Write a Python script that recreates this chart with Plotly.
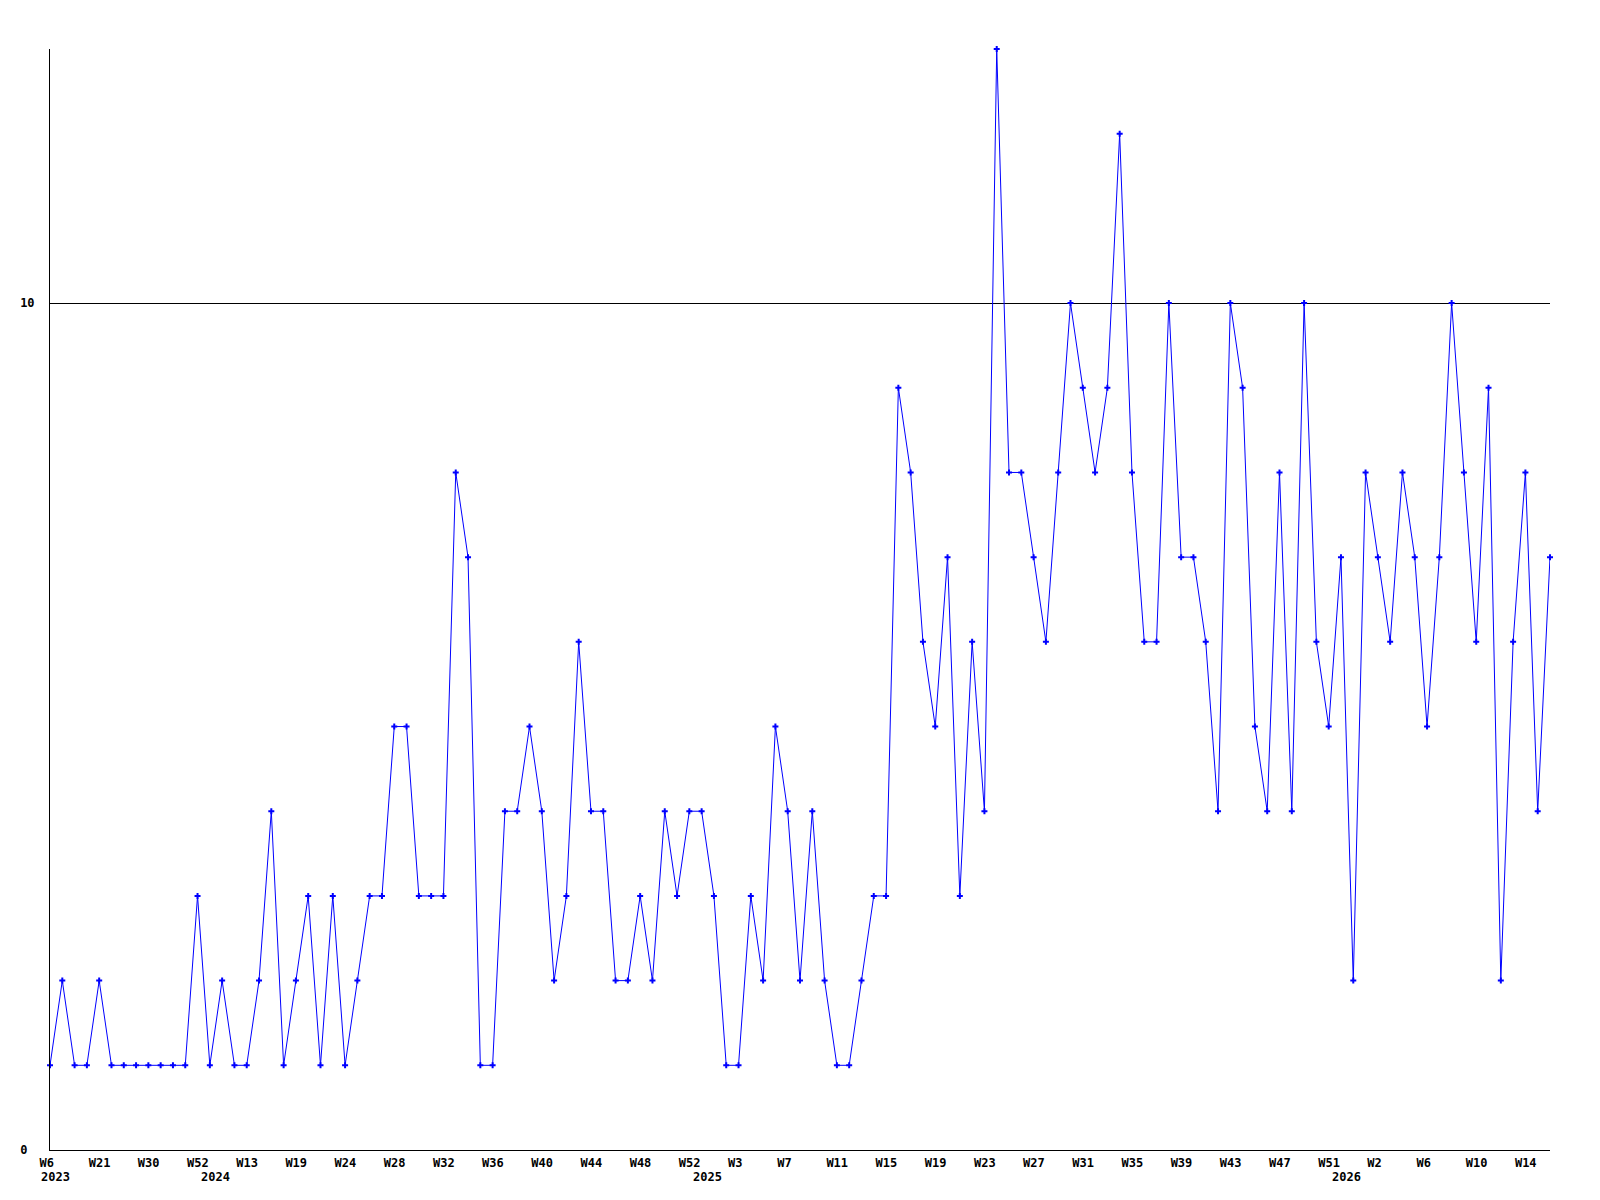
import plotly.graph_objects as go

# Weekly values (one point per week with data)
values = [
    1, 2, 1, 1, 2, 1, 1, 1, 1, 1, 1, 1, 3, 1, 2, 1, 1, 2, 4, 1,
    2, 3, 1, 3, 1, 2, 3, 3, 5, 5, 3, 3, 3, 8, 7, 1, 1, 4, 4, 5,
    4, 2, 3, 6, 4, 4, 2, 2, 3, 2, 4, 3, 4, 4, 3, 1, 1, 3, 2, 5,
    4, 2, 4, 2, 1, 1, 2, 3, 3, 9, 8, 6, 5, 7, 3, 6, 4, 13, 8, 8,
    7, 6, 8, 10, 9, 8, 9, 12, 8, 6, 6, 10, 7, 7, 6, 4, 10, 9, 5, 4,
    8, 4, 10, 6, 5, 7, 2, 8, 7, 6, 8, 7, 5, 7, 10, 8, 6, 9, 2, 6,
    8, 4, 7,
]

# Week tick labels (every 4th point)
week_labels = [
    "W6", "W21", "W30", "W52", "W13", "W19", "W24", "W28", "W32", "W36",
    "W40", "W44", "W48", "W52", "W3", "W7", "W11", "W15", "W19", "W23",
    "W27", "W31", "W35", "W39", "W43", "W47", "W51", "W2", "W6", "W10", "W14",
]
week_tick_index = list(range(0, 4 * len(week_labels), 4))

# Year labels and the point index where each year starts
year_labels = ["2023", "2024", "2025", "2026"]
year_start_index = [0, 13, 53, 105]

y_ticks = [0, 10]
y_tick_labels = ["0", "10"]

x = list(range(len(values)))

FONT = dict(family="DejaVu Sans Mono", size=12, color="black", weight="bold")

fig = go.Figure()
fig.add_trace(go.Scatter(
    x=x, y=values, mode="lines+markers",
    line=dict(color="#0000ff", width=1),
    marker=dict(symbol="cross", size=5, color="#0000ff", line=dict(width=0)),
    cliponaxis=False, hoverinfo="x+y", showlegend=False,
))

for lab, idx in zip(year_labels, year_start_index):
    fig.add_annotation(
        x=idx, y=0, xref="x", yref="paper", text=lab, showarrow=False,
        xanchor="left", yanchor="top", xshift=-11, yshift=-18, font=FONT,
    )

# pad y labels to equal width so they appear left-aligned (monospace)
width = max(len(t) for t in y_tick_labels)
y_tick_text = [t + "\u00a0" * (width - len(t)) for t in y_tick_labels]

fig.update_layout(
    width=1600, height=1200,
    margin=dict(l=42, r=58, t=41, b=58, pad=0),
    paper_bgcolor="white", plot_bgcolor="white",
    font=FONT,
    xaxis=dict(
        range=[0, len(values) - 1], showgrid=False, zeroline=False,
        showline=True, linecolor="black", linewidth=1, automargin=False,
        tickmode="array", tickvals=week_tick_index, ticktext=week_labels,
        ticks="", ticklabelposition="outside right", ticklabelshift=-11,
        ticklabelstandoff=2, tickangle=0, tickfont=FONT,
    ),
    yaxis=dict(
        range=[0, 13], showgrid=True, gridcolor="black", gridwidth=1,
        zeroline=False, showline=True, linecolor="black", linewidth=1,
        automargin=False,
        tickmode="array", tickvals=y_ticks, ticktext=y_tick_text,
        ticks="", ticklabelstandoff=12, tickfont=FONT,
    ),
)

fig.write_html("out.html")
